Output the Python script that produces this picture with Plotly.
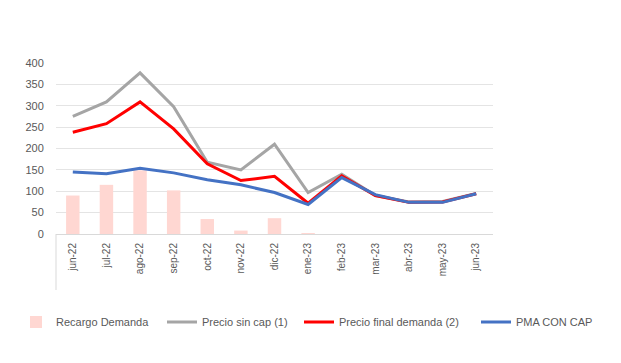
import plotly.graph_objects as go

categories = ["jun-22", "jul-22", "ago-22", "sep-22", "oct-22", "nov-22", "dic-22",
              "ene-23", "feb-23", "mar-23", "abr-23", "may-23", "jun-23"]
recargo_demanda = [90, 115, 149, 102, 35, 8, 37, 1, 0, 0, 0, 0, 0]
precio_sin_cap = [275, 309, 377, 298, 168, 150, 210, 97, 140, 90, 75, 76, 95]
precio_final = [238, 258, 309, 246, 164, 125, 135, 72, 136, 90, 74, 75, 94]
pma_con_cap = [145, 141, 154, 143, 127, 115, 97, 69, 132, 92, 74, 74, 94]
y_ticks = [0, 50, 100, 150, 200, 250, 300, 350, 400]

# page offset (body margin) of the rendered figure
O = 8
W, H = 621 - O, 363 - O
# plot area in screen pixels
L, R, T, B = 56, 493, 63, 234
pw, ph = R - L, B - T

def px_x(p):
    return (p - L) / pw

def px_y(p):
    return (B - p) / ph

fig = go.Figure()
fig.add_trace(go.Bar(x=categories, y=recargo_demanda, name="Recargo Demanda",
                     marker=dict(color="#FFD7D2", line=dict(width=0)), width=0.4,
                     legend="legend", showlegend=True))
fig.add_trace(go.Scatter(x=categories, y=precio_sin_cap, name="Precio sin cap (1)",
                         mode="lines", line=dict(color="#A5A5A5", width=3),
                         legend="legend2", showlegend=True))
fig.add_trace(go.Scatter(x=categories, y=precio_final, name="Precio final demanda (2)",
                         mode="lines", line=dict(color="#FF0000", width=3),
                         legend="legend3", showlegend=True))
fig.add_trace(go.Scatter(x=categories, y=pma_con_cap, name="PMA CON CAP",
                         mode="lines", line=dict(color="#4472C4", width=3),
                         legend="legend4", showlegend=True))

font = dict(family="Liberation Sans, Arial, sans-serif", size=11, color="#595959")
leg_common = dict(orientation="h", yanchor="middle", y=px_y(322), xanchor="left",
                  font=font, bgcolor="rgba(0,0,0,0)", borderwidth=0,
                  itemwidth=30, tracegroupgap=0, visible=True)

fig.update_layout(
    width=W, height=H,
    margin=dict(l=L - O, r=W - (R - O), t=T - O, b=H - (B - O), pad=0, autoexpand=False),
    paper_bgcolor="white", plot_bgcolor="white",
    font=font,
    showlegend=True,
    legend=dict(leg_common, x=px_x(16)),
    legend2=dict(leg_common, x=px_x(162)),
    legend3=dict(leg_common, x=px_x(299)),
    legend4=dict(leg_common, x=px_x(476)),
    xaxis=dict(type="category", tickangle=-90, showgrid=False,
               showline=True, linecolor="#D9D9D9", linewidth=1,
               ticks="outside", ticklen=4, tickcolor="rgba(0,0,0,0)",
               tickfont=dict(size=10, color="#595959")),
    yaxis=dict(range=[0, 400], tickvals=y_ticks, showgrid=True,
               gridcolor="#E4E4E4", gridwidth=1, zeroline=False,
               showline=False, ticks="outside", ticklen=9, tickcolor="rgba(0,0,0,0)",
               tickfont=dict(size=11, color="#595959")),
    shapes=[dict(type="line", xref="x domain", yref="paper", x0=0, x1=0,
                 y0=0, y1=px_y(290), line=dict(color="#D9D9D9", width=1))],
)

fig.write_html("out.html")
